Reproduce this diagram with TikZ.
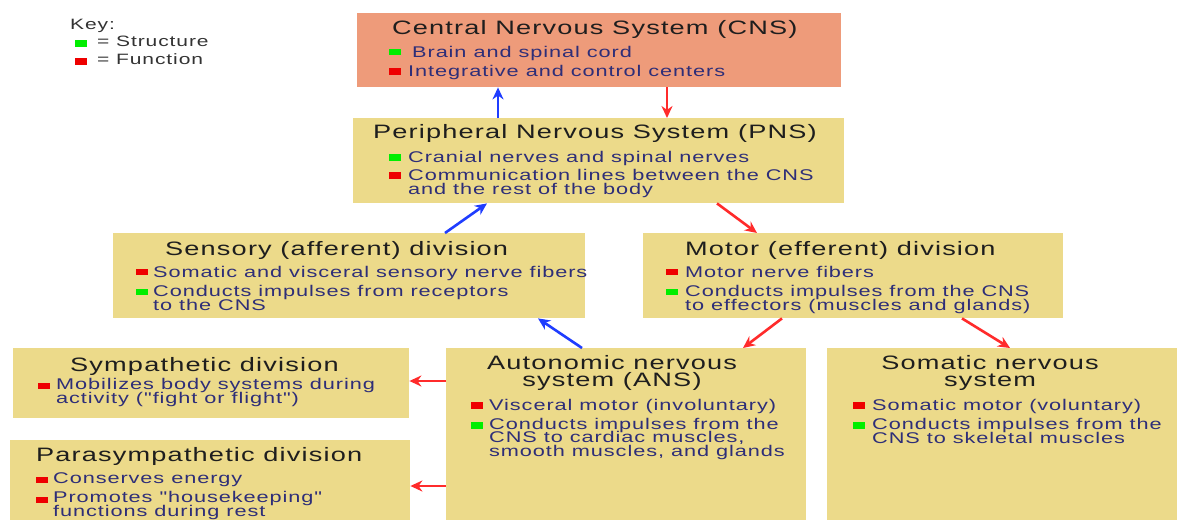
\documentclass[tikz,border=0pt]{standalone}
\usepackage{fontspec}
\newfontfamily\basefont{Liberation Sans}[FakeStretch=1.4,LetterSpace=6]
\usetikzlibrary{arrows.meta}
\definecolor{salmon}{HTML}{EE9B7A}
\definecolor{khaki}{HTML}{ECDA8A}
\definecolor{navy}{HTML}{2E2E78}
\definecolor{ink}{HTML}{1E1E1E}
\definecolor{keyink}{HTML}{333333}
\definecolor{bgreen}{HTML}{00EE00}
\definecolor{bred}{HTML}{EE0000}
\definecolor{ablue}{HTML}{1F3DFF}
\definecolor{ared}{HTML}{FF2B2B}
\newcommand\titlefont{\basefont\fontsize{19.4}{16.5}\selectfont\lineskiplimit -100pt\relax}
\newcommand\itemfont{\basefont\fontsize{15.5}{13.5}\selectfont\lineskiplimit -100pt\relax}
\newcommand\keyfont{\basefont\fontsize{15}{16}\selectfont}
\begin{document}
\begin{tikzpicture}[x=1pt,y=-1pt,
  box/.style={fill=khaki, draw=none, inner sep=0pt, anchor=north west},
  ttl/.style={anchor=base west, inner sep=0pt, text=ink, font=\titlefont},
  ttlc/.style={anchor=base, inner sep=0pt, text=ink, align=center, font=\titlefont},
  itm/.style={anchor=base west, inner sep=0pt, text=navy, align=left, font=\itemfont},
  keyt/.style={anchor=base west, inner sep=0pt, text=keyink, font=\keyfont},
  gb/.style={fill=bgreen, inner sep=0pt, minimum width=12pt, minimum height=6.5pt, anchor=center},
  rb/.style={gb, fill=bred},
  barrow/.style={ablue, line width=2.6pt, -{Stealth[length=12pt,width=11pt]}},
  rarrow/.style={barrow, ared}]
\useasboundingbox (0,0) rectangle (1177,519);
\clip (0,0) rectangle (1177,519);
\fill[white] (0,0) rectangle (1177,519);

% boxes
\node[box, fill=salmon, minimum width=484pt, minimum height=74pt] (cns) at (357,13) {};
\node[box, minimum width=491pt, minimum height=85pt] (pns) at (353,118) {};
\node[box, minimum width=472pt, minimum height=85pt] (sens) at (113,233) {};
\node[box, minimum width=420pt, minimum height=85pt] (motor) at (643,233) {};
\node[box, minimum width=396pt, minimum height=70pt] (symp) at (13,348) {};
\node[box, minimum width=400pt, minimum height=90pt] (para) at (10,440) {};
\node[box, minimum width=360pt, minimum height=182pt] (ans) at (446,348) {};
\node[box, minimum width=353pt, minimum height=182pt] (soma) at (827,348) {};

% key
\node[keyt] (key) at (70,30) {Key:};
\node[gb] (kg) at (80.5,43.5) {};
\node[keyt] (ks) at (97,47) {= Structure};
\node[rb] (kr) at (80.5,61.5) {};
\node[keyt] (kf) at (97,64) {= Function};

% CNS
\node[ttl] (cnst) at (392,35) {Central Nervous System (CNS)};
\node[gb] (cnsb1) at (395,52) {};
\node[itm] (cnsi1) at (412,57) {Brain and spinal cord};
\node[rb] (cnsb2) at (395,71.5) {};
\node[itm] (cnsi2) at (408,76) {Integrative and control centers};

% PNS
\node[ttl] (pnst) at (373,138) {Peripheral Nervous System (PNS)};
\node[gb] (pnsb1) at (395,157.5) {};
\node[itm] (pnsi1) at (408,162) {Cranial nerves and spinal nerves};
\node[rb] (pnsb2) at (395,175.5) {};
\node[itm] (pnsi2) at (408,194) {Communication lines between the CNS\\and the rest of the body};

% Sensory
\node[ttl] (senst) at (165,255) {Sensory (afferent) division};
\node[rb] (sensb1) at (141.5,272) {};
\node[itm] (sensi1) at (153,277) {Somatic and visceral sensory nerve fibers};
\node[gb] (sensb2) at (141.5,292) {};
\node[itm] (sensi2) at (153,310) {Conducts impulses from receptors\\to the CNS};

% Motor
\node[ttl] (motort) at (685,255) {Motor (efferent) division};
\node[rb] (motorb1) at (671.5,272) {};
\node[itm] (motori1) at (685,277) {Motor nerve fibers};
\node[gb] (motorb2) at (671.5,292) {};
\node[itm] (motori2) at (685,310) {Conducts impulses from the CNS\\to effectors (muscles and glands)};

% Sympathetic
\node[ttl] (sympt) at (70,371) {Sympathetic division};
\node[rb] (sympb1) at (43.5,386) {};
\node[itm] (sympi1) at (56,403) {Mobilizes body systems during\\activity ("fight or flight")};

% Parasympathetic
\node[ttl] (parat) at (36,461) {Parasympathetic division};
\node[rb] (parab1) at (41.5,480) {};
\node[itm] (parai1) at (53,483) {Conserves energy};
\node[rb] (parab2) at (41.5,500) {};
\node[itm] (parai2) at (53,516) {Promotes "housekeeping"\\functions during rest};

% ANS
\node[ttlc] (anst) at (612,386) {Autonomic nervous\\system (ANS)};
\node[rb] (ansb1) at (476.5,405.5) {};
\node[itm] (ansi1) at (489,410) {Visceral motor (involuntary)};
\node[gb] (ansb2) at (476.5,425.5) {};
\node[itm] (ansi2) at (489,456) {Conducts impulses from the\\CNS to cardiac muscles,\\smooth muscles, and glands};

% Somatic
\node[ttlc] (somat) at (990,386) {Somatic nervous\\system};
\node[rb] (somab1) at (858.5,405.5) {};
\node[itm] (somai1) at (872,410) {Somatic motor (voluntary)};
\node[gb] (somab2) at (858.5,425.5) {};
\node[itm] (somai2) at (872,443) {Conducts impulses from the\\CNS to skeletal muscles};

% connectors
\draw[barrow] ([xshift=145pt]pns.north west) -- ([xshift=141pt]cns.south west);
\draw[rarrow] ([xshift=310pt]cns.south west) -- ([xshift=314pt]pns.north west);
\draw[barrow] ([xshift=332pt]sens.north west) -- ([xshift=134pt]pns.south west);
\draw[rarrow] ([xshift=364pt]pns.south west) -- ([xshift=114pt]motor.north west);
\draw[barrow] ([xshift=136pt]ans.north west) -- ([xshift=425pt]sens.south west);
\draw[rarrow] ([xshift=139pt]motor.south west) -- ([xshift=297pt]ans.north west);
\draw[rarrow] ([xshift=319pt]motor.south west) -- ([xshift=183pt]soma.north west);
\draw[rarrow] ([yshift=-33pt]ans.north west) -- ([yshift=-33pt]symp.north east);
\draw[rarrow] ([yshift=-138pt]ans.north west) -- ([yshift=-46pt]para.north east);
\end{tikzpicture}
\end{document}
